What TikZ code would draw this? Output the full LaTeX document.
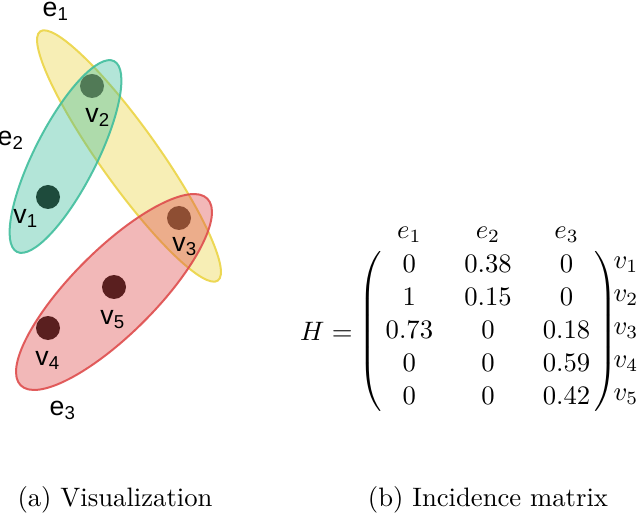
\documentclass[tikz,border=0pt]{standalone}
\usepackage{fontspec}
\newfontfamily\labelfont{Liberation Sans}
\usepackage{amsmath}
\usepackage{tikz}
\usetikzlibrary{matrix, positioning}
\definecolor{eyellow}{HTML}{EBD446}
\definecolor{egreen}{HTML}{41BE9D}
\definecolor{ered}{HTML}{DE4D4D}
\definecolor{vgreen}{HTML}{1E4B3C}
\definecolor{vmoss}{HTML}{517A56}
\definecolor{vbrown}{HTML}{8E4E33}
\definecolor{vmaroon}{HTML}{5A1F1F}
\tikzset{
    hedge/.style={line width=0.75pt, fill opacity=0.4, draw opacity=0.9}, % hyperedges
    vert/.style={circle, inner sep=0pt, minimum size=9pt}, % vertices
    vlab/.style={font=\labelfont, inner sep=0pt}, % vertex and edge labels
    cell/.style={inner xsep=0pt, inner ysep=0pt, text height=9pt, text depth=3.4pt}
}

\begin{document}
\begin{tikzpicture}[x=0.375pt, y=-0.375pt]
        \useasboundingbox (0,0) rectangle (640,515);

        % hyperedges
        \filldraw[hedge, fill=eyellow, draw=eyellow, rotate around={-54.5:(129,156)}]
        (129,156) ellipse [x radius=153, y radius=29];
        \filldraw[hedge, fill=egreen, draw=egreen, rotate around={63:(65.5,156.5)}]
        (65.5,156.5) ellipse [x radius=107, y radius=31];
        \filldraw[hedge, fill=ered, draw=ered, rotate around={45:(114,292)}]
        (114,292) ellipse [x radius=132, y radius=42];

        % vertices
        \node[vert, fill=vgreen] (v1) at (48,197) {};
        \node[vert, fill=vmoss] (v2) at (92,86) {};
        \node[vert, fill=vbrown] (v3) at (179,218) {};
        \node[vert, fill=vmaroon] (v4) at (48,328) {};
        \node[vert, fill=vmaroon] (v5) at (114,287) {};

        \node[vlab] (l1) at (26,218) {v\textsubscript{1}};
        \node[vlab] (l2) at (98,117) {v\textsubscript{2}};
        \node[vlab] (l3) at (185,247) {v\textsubscript{3}};
        \node[vlab] (l4) at (48,360) {v\textsubscript{4}};
        \node[vlab] (l5) at (113,320) {v\textsubscript{5}};
        \node[vlab] (le1) at (56,11) {e\textsubscript{1}};
        \node[vlab] (le2) at (11,140) {e\textsubscript{2}};
        \node[vlab] (le3) at (63,410) {e\textsubscript{3}};

        % incidence matrix
        \matrix (H) [matrix of math nodes, left delimiter={(}, right delimiter={)},
        inner sep=0pt, column sep=11.7pt, nodes={cell}] at (488,331) {
        0 & 0.38 & 0 \\
        1 & 0.15 & 0 \\
        0.73 & 0 & 0.18 \\
        0 & 0 & 0.59 \\
        0 & 0 & 0.42 \\
        };
        \node[anchor=east] (Heq) at (362,331) {$H =$};

        \coordinate (top) at (0,235);
        \coordinate (side) at (626,0);
        \node (c1) at (H-1-1 |- top) {$e_1$};
        \node (c2) at (H-1-2 |- top) {$e_2$};
        \node (c3) at (H-1-3 |- top) {$e_3$};
        \foreach \r in {1,...,5}
          \node (r\r) at (side |- H-\r-3) {$v_\r$};

        % captions
        \node (capa) at (115,500) {(a) Visualization};
        \node (capb) at (488,500) {(b) Incidence matrix};
      \end{tikzpicture}
\end{document}
